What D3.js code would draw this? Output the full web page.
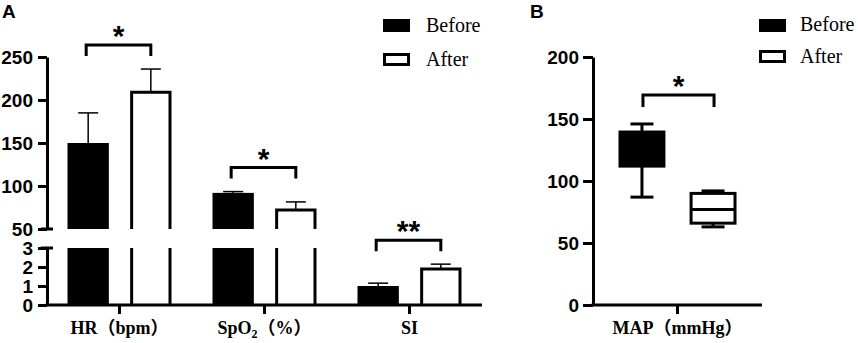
<!DOCTYPE html>
<html>
<head>
<meta charset="utf-8">
<script src="https://cdn.jsdelivr.net/npm/d3@7"></script>
<style>
  body { margin: 0; background: #fff; }
  svg { display: block; }
  .cat { font-family: "Liberation Serif", "Times New Roman", "Noto Sans CJK SC", serif; font-weight: bold; font-size: 18px; }
  .legend { font-family: "Liberation Serif", "Times New Roman", serif; font-size: 20px; }
  .star { font-family: "Liberation Sans", Arial, sans-serif; font-weight: bold; font-size: 30px; }
  .panel { font-family: "Liberation Sans", Arial, sans-serif; font-weight: bold; font-size: 19px; }
</style>
</head>
<body>
<div id="wrapper"></div>
<script>
// 1. Data
const categories = ["HR", "SpO2", "SI"]
const groups = ["Before", "After"]
const beforeMean = [150, 92, 1.0]
const beforeSD = [35, 1.5, 0.15]
const afterMean = [209, 72, 1.9]
const afterSD = [27, 9.5, 0.25]
const significance = ["*", "*", "**"]
const upperTicks = [50, 100, 150, 200, 250]
const lowerTicks = [0, 1, 2, 3]

const mapCategory = "MAP"
const mapBefore = { min: 87, q1: 112, median: 125, q3: 139.5, max: 146 }
const mapAfter = { min: 63, q1: 66, median: 77, q3: 90, max: 92 }
const mapSignificance = "*"
const mapTicks = [0, 50, 100, 150, 200]

// 2. Canvas
const width = 858
const height = 343
const svg = d3.select("#wrapper").append("svg")
  .attr("width", width)
  .attr("height", height)

const styleAxis = ax => {
  ax.attr("font-family", null).attr("font-size", null)
  ax.select(".domain").attr("stroke-width", 3).attr("stroke", "#000")
  ax.selectAll(".tick line").attr("stroke-width", 3).attr("stroke", "#000")
  ax.selectAll(".tick text")
    .style("font-family", "'Liberation Sans', Arial, sans-serif")
    .style("font-weight", "bold")
    .style("font-size", "19px")
    .attr("fill", "#000")
}

// ---------------- Panel A ----------------
const axisA = 47
const baseY = 305
const yLower = d3.scaleLinear().domain([0, 3]).range([305, 248])
const yUpper = d3.scaleLinear().domain([50, 250]).range([229, 57])
const breakLow = yLower(3)
const breakHigh = yUpper(50)

const xA = d3.scaleBand().domain(categories).range([axisA, 482])
const xSub = d3.scaleBand().domain(groups).range([-52, 52]).paddingInner(0.34)

const yPix = v => v <= 3 ? yLower(v) : yUpper(v)

const barsA = svg.append("g")

categories.forEach((c, i) => {
  const cx = xA(c) + xA.bandwidth() / 2
  const series = [
    { g: "Before", m: beforeMean[i], sd: beforeSD[i] },
    { g: "After", m: afterMean[i], sd: afterSD[i] },
  ]
  series.forEach(s => {
    const x0 = cx + xSub(s.g)
    const x1 = x0 + xSub.bandwidth()
    const xm = (x0 + x1) / 2
    // error bar (drawn first, bar on top)
    barsA.append("line")
      .attr("x1", xm).attr("x2", xm)
      .attr("y1", yPix(s.m)).attr("y2", yPix(s.m + s.sd))
      .attr("stroke", "#000").attr("stroke-width", 1.5)
    barsA.append("line")
      .attr("x1", xm - 10).attr("x2", xm + 10)
      .attr("y1", yPix(s.m + s.sd)).attr("y2", yPix(s.m + s.sd))
      .attr("stroke", "#000").attr("stroke-width", 1.5)

    if (s.g === "Before") {
      const lowTop = s.m > 3 ? breakLow : yLower(s.m)
      barsA.append("rect")
        .attr("x", x0).attr("width", x1 - x0)
        .attr("y", lowTop).attr("height", baseY - lowTop)
        .attr("fill", "#000")
      if (s.m > 50) {
        barsA.append("rect")
          .attr("x", x0).attr("width", x1 - x0)
          .attr("y", yUpper(s.m)).attr("height", breakHigh - yUpper(s.m))
          .attr("fill", "#000")
      }
    } else {
      const a = x0 + 1.5, b = x1 - 1.5
      if (s.m > 3) {
        barsA.append("path")
          .attr("d", `M${a},${baseY}V${breakLow}M${b},${breakLow}V${baseY}`)
          .attr("fill", "none").attr("stroke", "#000").attr("stroke-width", 3)
        barsA.append("path")
          .attr("d", `M${a},${breakHigh}V${yUpper(s.m)}H${b}V${breakHigh}`)
          .attr("fill", "#fff").attr("stroke", "#000").attr("stroke-width", 3)
      } else {
        barsA.append("path")
          .attr("d", `M${a},${baseY}V${yLower(s.m)}H${b}V${baseY}`)
          .attr("fill", "#fff").attr("stroke", "#000").attr("stroke-width", 3)
      }
    }
  })

  // significance bracket
  const top = Math.min(yPix(beforeMean[i] + beforeSD[i]), yPix(afterMean[i] + afterSD[i])) - 24
  const bx0 = cx + xSub("Before") + xSub.bandwidth() / 2 - 2
  const bx1 = cx + xSub("After") + xSub.bandwidth() / 2
  svg.append("path")
    .attr("d", `M${bx0},${top + 11}V${top}H${bx1}V${top + 11}`)
    .attr("fill", "none").attr("stroke", "#000").attr("stroke-width", 3)
  svg.append("text")
    .attr("class", "star")
    .attr("x", (bx0 + bx1) / 2)
    .attr("y", top + 1)
    .attr("text-anchor", "middle")
    .text(significance[i])
})

// y axes (broken)
const yAxisUpper = svg.append("g")
  .attr("transform", `translate(${axisA},0)`)
  .call(d3.axisLeft(yUpper).tickValues(upperTicks).tickSize(9).tickSizeOuter(0).tickPadding(5))
const yAxisLower = svg.append("g")
  .attr("transform", `translate(${axisA},0)`)
  .call(d3.axisLeft(yLower).tickValues(lowerTicks).tickFormat(d3.format("d")).tickSize(9).tickSizeOuter(0).tickPadding(5))
styleAxis(yAxisUpper)
styleAxis(yAxisLower)
// break caps
svg.append("g").selectAll("line")
  .data([breakHigh, breakLow])
  .join("line")
  .attr("x1", axisA - 6).attr("x2", axisA + 6)
  .attr("y1", d => d).attr("y2", d => d)
  .attr("stroke", "#000").attr("stroke-width", 3)

// x axis A
const xAxisA = svg.append("g")
  .attr("transform", `translate(0,${baseY})`)
  .call(d3.axisBottom(xA).tickSize(9).tickSizeOuter(0).tickFormat(""))
styleAxis(xAxisA)
xAxisA.select(".domain").attr("d", `M${axisA - 1.5},0H482`)

const catText = svg.append("g").selectAll("text")
  .data(categories)
  .join("text")
  .attr("class", "cat")
  .attr("x", d => xA(d) + xA.bandwidth() / 2)
  .attr("y", 334)
  .attr("text-anchor", "middle")
catText.each(function (d) {
  const t = d3.select(this)
  if (d === "HR") t.text("HR（bpm）")
  else if (d === "SpO2") {
    t.append("tspan").text("SpO")
    t.append("tspan").attr("font-size", "12px").attr("dy", 4).text("2")
    t.append("tspan").attr("dy", -4).text("（%）")
  } else t.text(d)
})

// legend A
const legendA = svg.append("g").attr("transform", "translate(383,19)")
legendA.append("rect").attr("x", 0).attr("y", 0).attr("width", 27).attr("height", 13).attr("fill", "#000")
legendA.append("rect").attr("x", 1.5).attr("y", 35.5).attr("width", 24).attr("height", 10)
  .attr("fill", "#fff").attr("stroke", "#000").attr("stroke-width", 3)
legendA.append("text").attr("class", "legend").attr("x", 43).attr("y", 13).text("Before")
legendA.append("text").attr("class", "legend").attr("x", 43).attr("y", 47).text("After")

svg.append("text").attr("class", "panel").attr("x", 2).attr("y", 18).text("A")

// ---------------- Panel B ----------------
const axisB = 593
const yB = d3.scaleLinear().domain([0, 200]).range([305, 57])
const xB = d3.scaleBand().domain([mapCategory]).range([axisB, 762])
const xSubB = d3.scaleBand().domain(groups).range([-59, 59]).paddingInner(0.34)
const cB = xB(mapCategory) + xB.bandwidth() / 2

const boxes = [
  { g: "Before", d: mapBefore },
  { g: "After", d: mapAfter },
]
boxes.forEach(b => {
  const x0 = cB + xSubB(b.g)
  const x1 = x0 + xSubB.bandwidth()
  const xm = (x0 + x1) / 2
  const gB = svg.append("g").attr("stroke", "#000").attr("stroke-width", 3)
  gB.append("line").attr("x1", xm).attr("x2", xm).attr("y1", yB(b.d.max)).attr("y2", yB(b.d.min))
  gB.append("line").attr("x1", xm - 11.5).attr("x2", xm + 11.5).attr("y1", yB(b.d.max)).attr("y2", yB(b.d.max))
  gB.append("line").attr("x1", xm - 11.5).attr("x2", xm + 11.5).attr("y1", yB(b.d.min)).attr("y2", yB(b.d.min))
  const filled = b.g === "Before"
  gB.append("rect")
    .attr("x", x0 + 1.5).attr("width", x1 - x0 - 3)
    .attr("y", yB(b.d.q3)).attr("height", yB(b.d.q1) - yB(b.d.q3))
    .attr("fill", filled ? "#000" : "#fff")
  gB.append("line").attr("x1", x0 + 1.5).attr("x2", x1 - 1.5)
    .attr("y1", yB(b.d.median)).attr("y2", yB(b.d.median))
})

// bracket B
const topB = yB(Math.max(mapBefore.max, mapAfter.max)) - 29
const bxB0 = cB + xSubB("Before") + xSubB.bandwidth() / 2 + 1
const bxB1 = cB + xSubB("After") + xSubB.bandwidth() / 2 + 1
svg.append("path")
  .attr("d", `M${bxB0},${topB + 12}V${topB}H${bxB1}V${topB + 12}`)
  .attr("fill", "none").attr("stroke", "#000").attr("stroke-width", 3)
svg.append("text")
  .attr("class", "star")
  .attr("x", (bxB0 + bxB1) / 2)
  .attr("y", topB + 1)
  .attr("text-anchor", "middle")
  .text(mapSignificance)

const yAxisB = svg.append("g")
  .attr("transform", `translate(${axisB},0)`)
  .call(d3.axisLeft(yB).tickValues(mapTicks).tickSize(10).tickSizeOuter(0).tickPadding(4))
styleAxis(yAxisB)

const xAxisB = svg.append("g")
  .attr("transform", `translate(0,${baseY})`)
  .call(d3.axisBottom(xB).tickSize(9).tickSizeOuter(0).tickFormat(""))
styleAxis(xAxisB)
xAxisB.select(".domain").attr("d", `M${axisB - 1.5},0H762`)

svg.append("text").attr("class", "cat")
  .attr("x", cB).attr("y", 334).attr("text-anchor", "middle")
  .text("MAP（mmHg）")

// legend B
const legendB = svg.append("g").attr("transform", "translate(759,19)")
legendB.append("rect").attr("x", 0).attr("y", 0).attr("width", 27).attr("height", 13).attr("fill", "#000")
legendB.append("rect").attr("x", 1.5).attr("y", 32.5).attr("width", 24).attr("height", 10)
  .attr("fill", "#fff").attr("stroke", "#000").attr("stroke-width", 3)
legendB.append("text").attr("class", "legend").attr("x", 41).attr("y", 12).text("Before")
legendB.append("text").attr("class", "legend").attr("x", 41).attr("y", 44).text("After")

svg.append("text").attr("class", "panel").attr("x", 530).attr("y", 18).text("B")
</script>
</body>
</html>
